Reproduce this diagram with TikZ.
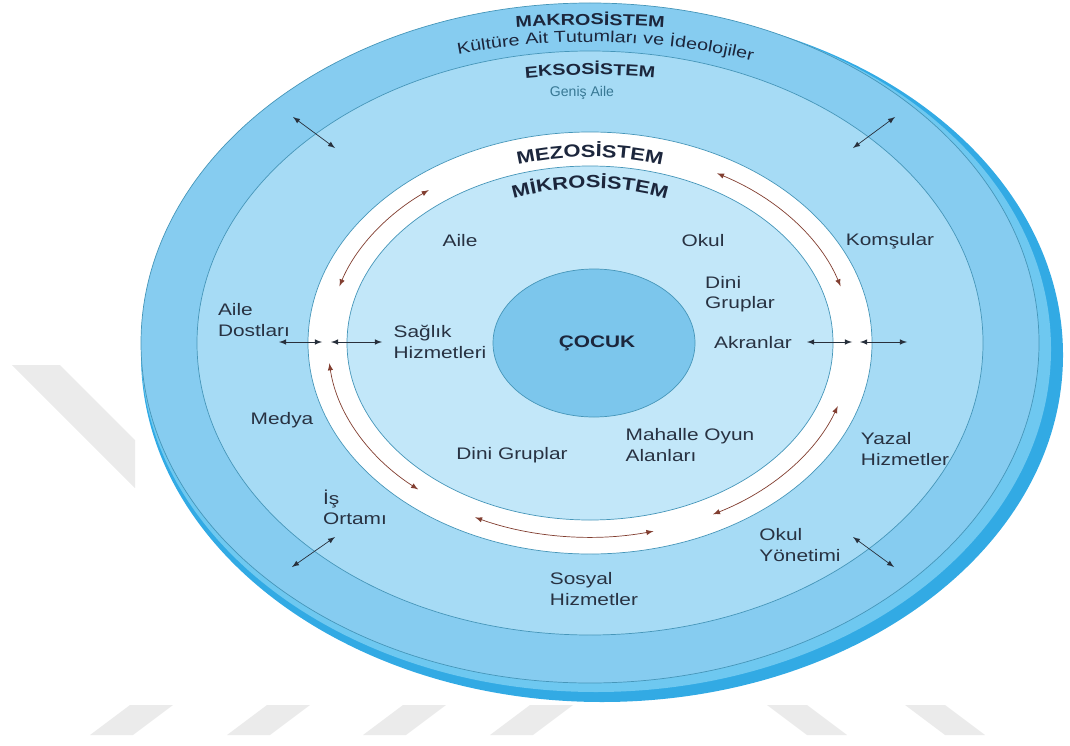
\documentclass[tikz,border=0pt]{standalone}
\usepackage{fontspec}
\setmainfont{Liberation Sans}
\newfontfamily\lblfont[FakeStretch=1.25]{Liberation Sans}
\usetikzlibrary{calc,decorations.text}

\definecolor{backblue}{RGB}{50,170,228}
\definecolor{rimblue}{RGB}{110,200,240}
\definecolor{macroblue}{RGB}{134,204,240}
\definecolor{exoblue}{RGB}{166,219,245}
\definecolor{microblue}{RGB}{194,231,249}
\definecolor{childblue}{RGB}{124,198,236}
\definecolor{ringline}{RGB}{70,150,185}
\definecolor{txtcol}{RGB}{40,50,66}
\definecolor{navy}{RGB}{28,38,60}
\definecolor{arrowcol}{RGB}{40,48,60}
\definecolor{ringcol}{RGB}{130,62,48}
\definecolor{stripegray}{RGB}{235,235,235}

\tikzset{
  lbl/.style={font=\lblfont\fontsize{9.5}{11.5}\selectfont, text=txtcol, align=left, inner sep=0pt},
  boldlbl/.style={lbl, font=\lblfont\bfseries\fontsize{9.5}{11.5}\selectfont, text=navy},
  dblarrow/.style={latex-latex, thin, arrowcol},
  ringarrow/.style={latex-latex, thin, ringcol},
  border/.style={draw=ringline, thin},
}

\begin{document}
\begin{tikzpicture}[x=0.02cm, y=0.02cm]
	\useasboundingbox (0,0) rectangle (1070,745);

	\pgfmathsetmacro{\cx}{590}
	\pgfmathsetmacro{\cy}{402}

	% radii of the rings
	\pgfmathsetmacro{\macrox}{449}
	\pgfmathsetmacro{\macroy}{340}
	\pgfmathsetmacro{\exox}{393}
	\pgfmathsetmacro{\exoy}{292}
	\pgfmathsetmacro{\mesox}{282}
	\pgfmathsetmacro{\mesoy}{211}
	\pgfmathsetmacro{\microx}{243}
	\pgfmathsetmacro{\microy}{177}
	\pgfmathsetmacro{\midx}{262}
	\pgfmathsetmacro{\midy}{194}

	\coordinate (C) at (\cx, \cy);
	\coordinate (B) at (\cx + 12, \cy - 12);
	\coordinate (R) at (\cx + 6, \cy - 6);
	\coordinate (K) at (\cx + 4, \cy);

	% draw watermark stripes
	\fill[stripegray] (12,380) -- (60,380) -- (135,305) -- (135,257) -- cycle;
	\foreach \x in {90, 227, 363, 490}
		\fill[stripegray] (\x,10) -- ++(43,0) -- ++(40,30) -- ++(-43,0) -- cycle;
	\foreach \x in {767, 905}
		\fill[stripegray] (\x,40) -- ++(40,0) -- ++(40,-30) -- ++(-40,0) -- cycle;

	% draw the disk, back side first
	\fill[backblue] (B) ellipse [x radius=\macrox + 12, y radius=\macroy + 7];
	\fill[rimblue] (R) ellipse [x radius=\macrox + 6, y radius=\macroy + 3];
	\filldraw[border, fill=macroblue] (C) ellipse [x radius=\macrox, y radius=\macroy];
	\filldraw[border, fill=exoblue] (C) ellipse [x radius=\exox, y radius=\exoy];
	\filldraw[border, fill=white] (C) ellipse [x radius=\mesox, y radius=\mesoy];
	\filldraw[border, fill=microblue] (C) ellipse [x radius=\microx, y radius=\microy];
	\filldraw[border, fill=childblue] (K) ellipse [x radius=101, y radius=74];

	% draw system names along the rings
	\path[decorate, decoration={text along path, text align=center, text color=navy,
		text={|\lblfont\bfseries\fontsize{9}{11}\selectfont|MAKROSİSTEM}}]
		($(C)+(150:560 and 318)$) arc[start angle=150, end angle=30, x radius=560, y radius=318];
	\path[decorate, decoration={text along path, text align=center, text color=navy,
		text={|\lblfont\fontsize{9}{11}\selectfont|Kültüre Ait Tutumları ve İdeolojiler}}]
		($(C)+(145:470 and 301)$) arc[start angle=145, end angle=30, x radius=470, y radius=301];
	\path[decorate, decoration={text along path, text align=center, text color=navy,
		text={|\lblfont\bfseries\fontsize{9}{11}\selectfont|EKSOSİSTEM}}]
		($(C)+(150:430 and 268)$) arc[start angle=150, end angle=30, x radius=430, y radius=268];
	\path[decorate, decoration={text along path, text align=center, text color=navy,
		text={|\lblfont\bfseries\fontsize{10}{12}\selectfont|MEZOSİSTEM}}]
		($(C)+(150:250 and 186)$) arc[start angle=150, end angle=30, x radius=250, y radius=186];
	\path[decorate, decoration={text along path, text align=center, text color=navy,
		text={|\lblfont\bfseries\fontsize{10}{12}\selectfont|MİKROSİSTEM}}]
		($(C)+(150:210 and 155)$) arc[start angle=150, end angle=30, x radius=210, y radius=155];

	\node[lbl, font=\fontsize{8}{10}\selectfont, text=ringline!80!black] (genis) at (582,652) {Geniş Aile};

	% draw labels
	\node[boldlbl] (cocuk) at (597,402) {ÇOCUK};
	\node[lbl] (aile) at (460,504) {Aile};
	\node[lbl] (okul) at (703,504) {Okul};
	\node[lbl] (komsu) at (890,504) {Komşular};
	\node[lbl] (dini1) at (740,451) {Dini\\Gruplar};
	\node[lbl] (dost) at (254,425) {Aile\\Dostları};
	\node[lbl] (saglik) at (440,403) {Sağlık\\Hizmetleri};
	\node[lbl] (akran) at (753,402) {Akranlar};
	\node[lbl] (medya) at (282,325) {Medya};
	\node[lbl] (mahalle) at (690,300) {Mahalle Oyun\\Alanları};
	\node[lbl] (dini2) at (512,290) {Dini Gruplar};
	\node[lbl] (yazal) at (905,296) {Yazal\\Hizmetler};
	\node[lbl] (is) at (355,238) {İş\\Ortamı};
	\node[lbl] (yonetim) at (800,200) {Okul\\Yönetimi};
	\node[lbl] (sosyal) at (594,156) {Sosyal\\Hizmetler};

	% draw straight arrows
	\foreach \name/\ax/\ay/\bx/\by in {tl/293/628/335/597, tr/895/628/853/597, bl/335/208/292/178, br/853/208/894/178,
		lo/279/403/322/403, li/331/403/382/403, ri/807/403/852/403, ro/860/403/907/403}
	{
		\coordinate (\name a) at (\ax,\ay);
		\coordinate (\name b) at (\bx,\by);
		\draw[dblarrow] (\name a) -- (\name b);
	}

	% draw arrows inside the mesosystem ring
	\foreach \s/\e in {128/163, 61/17, 186/229, 244/284, 298/341}
	{
		\coordinate (ring\s) at ($(C)+(\s:{\midx} and {\midy})$);
		\draw[ringarrow] (ring\s) arc[start angle=\s, end angle=\e, x radius=\midx, y radius=\midy];
	}
\end{tikzpicture}
\end{document}
